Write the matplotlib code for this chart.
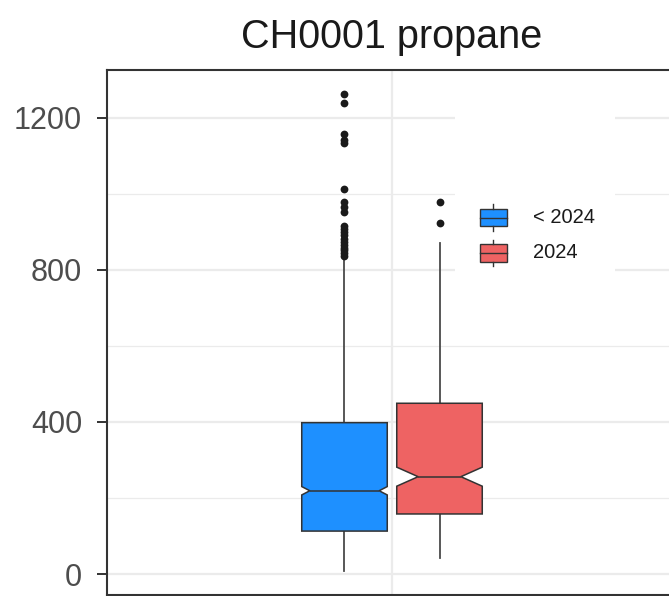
import matplotlib
matplotlib.use("Agg")
import matplotlib.pyplot as plt
from matplotlib.patches import Rectangle
from matplotlib.ticker import MultipleLocator

plt.rcParams['font.family'] = ['Liberation Sans', 'DejaVu Sans']

# --- values ---
title = "CH0001 propane"
groups = ["< 2024", "2024"]
colors = ["#1E90FF", "#EE6363"]
positions = [0.9, 1.1]
q1 = [113, 158]
med = [219, 256]
q3 = [398, 449]
whislo = [8, 42]
whishi = [826, 871]
cilo = [208, 231]
cihi = [230, 281]
fliers_old = [835, 843, 851, 858, 866, 874, 882, 890, 898, 906, 914,
              952, 966, 979, 1011, 1132, 1141, 1158, 1238, 1262]
fliers_new = [923, 979]
yticks = [0, 400, 800, 1200]

stats = []
for i, fl in enumerate([fliers_old, fliers_new]):
    stats.append(dict(med=med[i], q1=q1[i], q3=q3[i], whislo=whislo[i],
                      whishi=whishi[i], cilo=cilo[i], cihi=cihi[i],
                      fliers=fl, label=groups[i]))

fig = plt.figure(figsize=(6.69, 5.96), dpi=100)
# panel runs past the right edge of the picture, like the cropped reference
ax = fig.add_axes([107 / 669, 1 / 596, 570 / 669, 525 / 596])

bw = 0.18
bp = ax.bxp(stats, positions=positions, widths=bw, shownotches=True,
            showcaps=False, patch_artist=True,
            boxprops=dict(edgecolor="#333333", linewidth=1.1),
            medianprops=dict(color="#333333", linewidth=1.1),
            whiskerprops=dict(color="#4a4a4a", linewidth=1.3),
            flierprops=dict(marker="o", markerfacecolor="#1a1a1a",
                            markeredgecolor="none", markersize=5.6))
for patch, c in zip(bp["boxes"], colors):
    patch.set_facecolor(c)
    patch.set_zorder(3)
for m in bp["medians"]:
    m.set_zorder(4)

# the very short notch of the first box looks shallower in the reference
indent = 0.017
p0 = positions[0]
path = bp["boxes"][0].get_path()
v = path.vertices
v[3, 0] = p0 + bw / 2 - indent
v[8, 0] = p0 - bw / 2 + indent
bp["medians"][0].set_xdata([p0 - bw / 2 + indent, p0 + bw / 2 - indent])

ax.set_xlim(0.4, 1.6)
ax.set_ylim(-55, 1325)
ax.set_yticks(yticks)
ax.set_yticklabels([str(v) for v in yticks])
ax.yaxis.set_minor_locator(MultipleLocator(200))
ax.set_xticks([1.0])
ax.set_xticklabels([])
ax.tick_params(axis="y", which="major", length=7, width=1.4, color="#333333",
               labelsize=22, labelcolor="#4D4D4D", pad=11)
ax.tick_params(axis="y", which="minor", length=0)
ax.tick_params(axis="x", length=0)

ax.set_axisbelow(True)
ax.grid(which="major", color="#EBEBEB", linewidth=1.6)
ax.grid(which="minor", axis="y", color="#EBEBEB", linewidth=0.9)
for s in ax.spines.values():
    s.set_color("#333333")
    s.set_linewidth(1.5)

ax.set_title(title, fontsize=28.5, pad=16, color="#1a1a1a")

# legend drawn by hand: white background + small box glyphs
ax.add_patch(Rectangle((0.6105, 0.59), 0.28, 0.343, transform=ax.transAxes,
                       facecolor="white", edgecolor="none", zorder=1))
key_y = [0.719, 0.652]
kw, kh = 0.047, 0.034
kx = 0.654
for c, yc, lab in zip(colors, key_y, groups):
    ax.add_patch(Rectangle((kx, yc - kh / 2), kw, kh, transform=ax.transAxes,
                           facecolor=c, edgecolor="#333333", linewidth=1.0,
                           zorder=4))
    ax.plot([kx, kx + kw], [yc, yc], transform=ax.transAxes,
            color="#333333", linewidth=1.0, zorder=5)
    ax.plot([kx + kw / 2] * 2, [yc + kh / 2, yc + kh / 2 + 0.008],
            transform=ax.transAxes, color="#333333", linewidth=1.0, zorder=5)
    ax.plot([kx + kw / 2] * 2, [yc - kh / 2, yc - kh / 2 - 0.008],
            transform=ax.transAxes, color="#333333", linewidth=1.0, zorder=5)
    ax.text(0.747, yc, lab, transform=ax.transAxes, fontsize=14.5,
            color="#1a1a1a", va="center", ha="left", zorder=5)

fig.savefig("out.png", dpi=100)
